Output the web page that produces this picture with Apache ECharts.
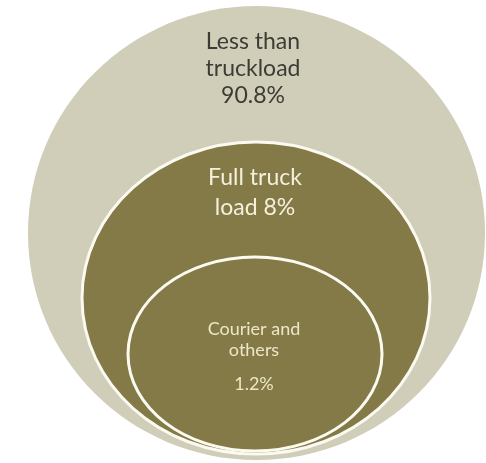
<!DOCTYPE html>
<html>
<head>
<meta charset="utf-8">
<script src="https://cdn.jsdelivr.net/npm/echarts@6/dist/echarts.min.js"></script>
<style>
  html, body { margin: 0; padding: 0; background: #ffffff; }
  #chart { width: 486px; height: 463px; }
</style>
</head>
<body>
<div id="chart"></div>
<script>
// ---- data ----
const categories = ['Less than truckload', 'Full truck load', 'Courier and others'];
const shares = [90.8, 8, 1.2];
// category names as they are broken onto lines in the picture
const nameLines = [['Less than', 'truckload'], ['Full truck', 'load'], ['Courier and', 'others']];

// ---- layout / style (not data) ----
const shapes = [
  { cx: 256.5, cy: 233, rx: 228.5, ry: 227, fill: '#d0cdb8', stroke: null },
  { cx: 256, cy: 298, rx: 174, ry: 156, fill: '#847a48', stroke: '#fbfaf0' },
  { cx: 255, cy: 354, rx: 127, ry: 97, fill: '#847a48', stroke: '#fbfaf0' }
];
const labelStyle = [
  { x: 253, top: 28, size: 23, lh: 27, color: '#3c3c36', joinValue: false, valueGap: 0 },
  { x: 255, top: 163, size: 23, lh: 30, color: '#f4f0dc', joinValue: true, valueGap: 0 },
  { x: 254, top: 319, size: 18, lh: 21, color: '#ece7c6', joinValue: false, valueGap: 13 }
];

function labelText(i) {
  const lines = nameLines[i].slice();
  const pct = shares[i] + '%';
  if (labelStyle[i].joinValue) {
    lines[lines.length - 1] = lines[lines.length - 1] + ' ' + pct;
    return { lines: lines, pct: null };
  }
  return { lines: lines, pct: pct };
}

const chart = echarts.init(document.getElementById('chart'), null, { renderer: 'canvas' });

const option = {
  backgroundColor: '#ffffff',
  animation: false,
  grid: { left: 0, right: 0, top: 0, bottom: 0 },
  xAxis: { type: 'value', min: 0, max: 486, show: false },
  yAxis: { type: 'value', min: 0, max: 463, inverse: true, show: false },
  series: [{
    type: 'custom',
    coordinateSystem: 'cartesian2d',
    data: categories.map((c, i) => ({ name: c, value: [i, shares[i]] })),
    renderItem: function (params, api) {
      const i = api.value(0);
      const s = shapes[i];
      const st = labelStyle[i];
      const c = api.coord([s.cx, s.cy]);
      const sz = api.size([s.rx, s.ry]);
      const children = [];
      children.push({
        type: 'ellipse',
        shape: { cx: c[0], cy: c[1], rx: sz[0], ry: sz[1] },
        style: {
          fill: s.fill,
          stroke: s.stroke || null,
          lineWidth: s.stroke ? 3 : 0
        }
      });
      const t = labelText(i);
      const pos = api.coord([st.x, st.top]);
      const font = '"Lato", "Open Sans", sans-serif';
      children.push({
        type: 'text',
        x: pos[0], y: pos[1],
        style: {
          text: t.lines.join('\n'),
          fill: st.color,
          font: st.size + 'px ' + font,
          lineHeight: st.lh,
          align: 'center',
          verticalAlign: 'top'
        }
      });
      if (t.pct) {
        const py = api.coord([st.x, st.top + st.lh * t.lines.length + st.valueGap]);
        children.push({
          type: 'text',
          x: py[0], y: py[1],
          style: {
            text: t.pct,
            fill: st.color,
            font: st.size + 'px ' + font,
            lineHeight: st.lh,
            align: 'center',
            verticalAlign: 'top'
          }
        });
      }
      return { type: 'group', children: children };
    }
  }]
};
chart.setOption(option);
</script>
</body>
</html>
